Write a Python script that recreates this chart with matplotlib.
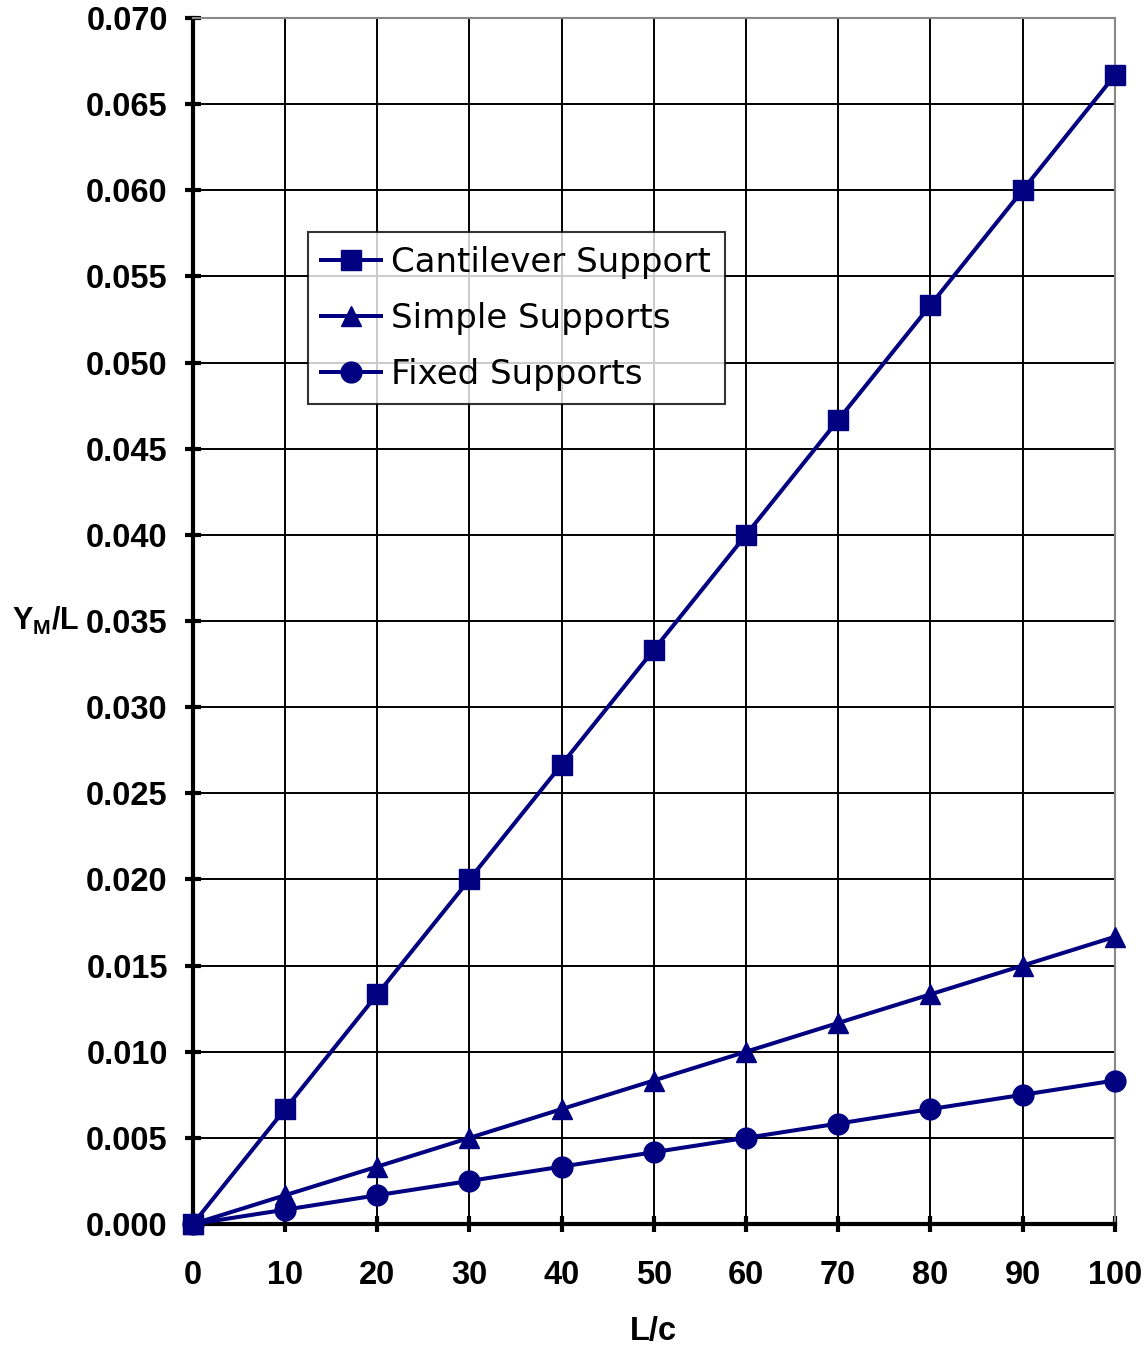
import matplotlib
matplotlib.use("Agg")
import matplotlib.pyplot as plt

# data
lc = [0, 10, 20, 30, 40, 50, 60, 70, 80, 90, 100]
cantilever = [0, 0.00667, 0.01333, 0.02, 0.02667, 0.03333, 0.04, 0.04667, 0.05333, 0.06, 0.06667]
simple = [0, 0.00167, 0.00333, 0.005, 0.00667, 0.00833, 0.01, 0.01167, 0.01333, 0.015, 0.01667]
fixed = [0, 0.00083, 0.00167, 0.0025, 0.00333, 0.00417, 0.005, 0.00583, 0.00667, 0.0075, 0.00833]
yticks = [0.000, 0.005, 0.010, 0.015, 0.020, 0.025, 0.030, 0.035, 0.040, 0.045, 0.050, 0.055, 0.060, 0.065, 0.070]

plt.rcParams['mathtext.fontset'] = 'custom'
plt.rcParams['mathtext.bf'] = 'Liberation Sans:bold'
plt.rcParams['mathtext.rm'] = 'Liberation Sans:bold'

navy = '#000080'

fig = plt.figure(figsize=(11.48, 13.47), dpi=100)
ax = fig.add_axes([0.168, 0.0913, 0.803, 0.8953])

ax.plot(lc, cantilever, color=navy, lw=2.9, marker='s', ms=14, label='Cantilever Support', zorder=5, clip_on=False)
ax.plot(lc, simple, color=navy, lw=2.9, marker='^', ms=15, label='Simple Supports', zorder=5, clip_on=False)
ax.plot(lc, fixed, color=navy, lw=2.9, marker='o', ms=15, label='Fixed Supports', zorder=5, clip_on=False)

ax.set_xlim(0, 100)
ax.set_ylim(0, 0.070)
ax.set_xticks(lc)
ax.set_yticks(yticks)
ax.set_yticklabels(['%.3f' % v for v in yticks])
ax.grid(True, color='black', lw=1.4)
ax.set_axisbelow(True)

for s in ['left', 'bottom']:
    ax.spines[s].set_linewidth(3)
    ax.spines[s].set_color('black')
for s in ['top', 'right']:
    ax.spines[s].set_linewidth(1.5)
    ax.spines[s].set_color('#888888')

ax.tick_params(direction='inout', length=12, width=3, colors='black', top=False, right=False)
ax.tick_params(axis='x', pad=20)
ax.tick_params(axis='y', pad=12)
for lab in ax.get_xticklabels() + ax.get_yticklabels():
    lab.set_fontfamily('Liberation Sans')
    lab.set_fontweight('bold')
    lab.set_fontsize(23.5)

ax.set_xlabel('L/c', fontfamily='Liberation Sans', fontweight='bold', fontsize=23.5, labelpad=18)
ax.set_ylabel(r'$\mathbf{Y_M/L}$', fontsize=22, rotation=0, va='center', ha='left')
ax.yaxis.set_label_coords(-0.196, 0.5)

leg = ax.legend(loc='upper left', bbox_to_anchor=(0.1247, 0.8226), fontsize=24.5, frameon=True,
                fancybox=False, edgecolor='black', handlelength=1.75, handletextpad=0.3,
                borderpad=0.4, labelspacing=0.68, borderaxespad=0)
leg.get_frame().set_linewidth(1.5)
for t in leg.get_texts():
    t.set_fontfamily('DejaVu Sans')

fig.savefig('out.png', dpi=100)
